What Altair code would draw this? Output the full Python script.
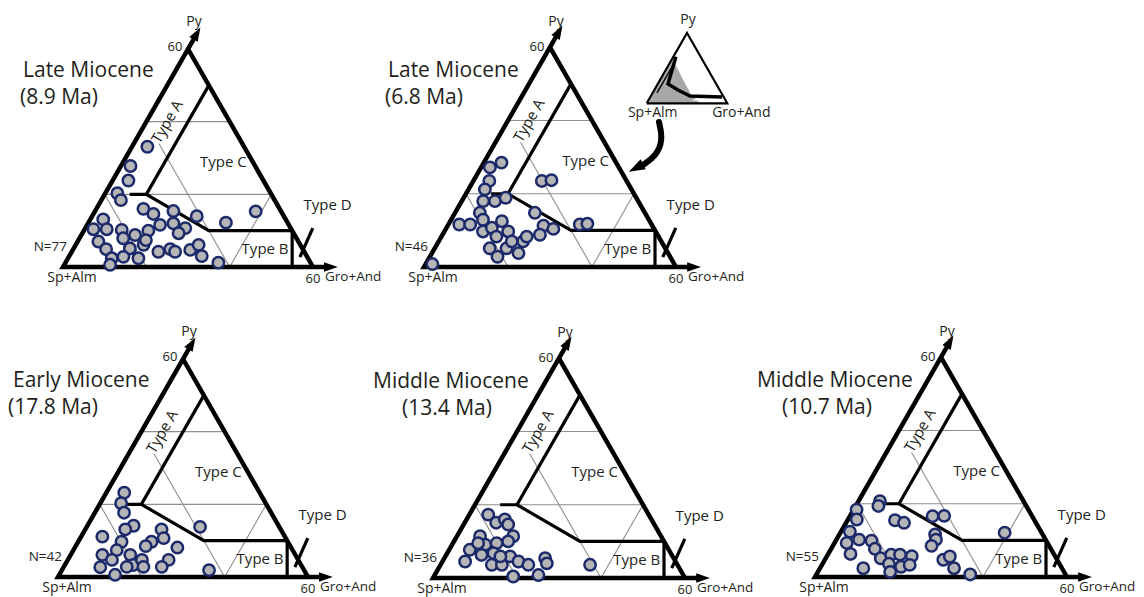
import altair as alt
import pandas as pd

# ---------------- data ----------------
# Each garnet: (Gro+And %, Py %); Sp+Alm is the remainder to 100.
LATE_MIOCENE_8_9 = [
    (3.7, 33.1), (2.3, 27.8), (3.8, 23.8), (2.9, 20.3), (4.7, 18.4), (11.3, 16.0), (14.4, 14.6),
    (18.8, 15.4), (25.1, 14.0), (33.0, 12.2), (38.6, 15.3), (3.1, 13.1), (2.1, 10.4), (5.3, 10.4),
    (9.0, 10.2), (5.0, 7.0), (7.9, 4.9), (10.5, 2.4), (11.0, 0.6), (10.5, 7.9), (12.9, 8.8),
    (15.5, 10.0), (17.5, 11.6), (20.5, 12.0), (24.0, 10.7), (23.1, 9.3), (13.5, 5.1), (16.9, 2.4),
    (13.1, 2.8), (16.3, 6.1), (20.8, 4.2), (23.3, 4.9), (24.8, 4.2), (28.2, 4.7), (29.5, 6.1),
    (31.8, 3.0), (36.7, 1.2), (16.2, 7.4),
]
LATE_MIOCENE_6_8 = [
    (4.2, 28.5), (2.1, 27.2), (3.8, 23.5), (3.9, 21.2), (5.1, 18.0), (7.9, 18.0), (10.0, 18.9),
    (5.9, 14.8), (7.6, 12.9), (2.6, 11.6), (5.2, 11.6), (9.2, 9.7), (10.8, 10.7), (12.3, 12.5),
    (15.2, 9.7), (13.1, 8.3), (13.1, 5.1), (16.1, 2.8), (17.1, 5.1), (20.6, 3.8), (20.1, 7.0),
    (20.3, 8.3), (19.0, 14.8), (22.8, 11.3), (25.6, 10.4), (23.2, 8.8), (16.3, 23.5), (18.5, 23.7),
    (31.3, 11.6), (33.0, 11.8), (1.6, 0.8), (17.4, 7.0),
]
EARLY_MIOCENE_17_8 = [
    (4.3, 23.2), (5.0, 20.3), (7.0, 17.7), (11.1, 14.1), (9.6, 13.1), (5.1, 11.1), (10.4, 9.7),
    (10.4, 7.4), (7.6, 6.1), (10.6, 4.7), (8.8, 2.7), (13.4, 0.6), (14.3, 6.1), (16.4, 3.3),
    (17.8, 4.7), (19.1, 2.8), (15.1, 2.8), (17.6, 9.7), (16.8, 8.5), (18.3, 13.1), (20.0, 10.7),
    (24.6, 8.1), (24.2, 4.7), (23.5, 2.8), (27.2, 13.8), (35.3, 1.9),
]
MIDDLE_MIOCENE_13_4 = [
    (4.5, 17.3), (7.5, 15.1), (9.1, 16.0), (10.6, 14.6), (13.4, 11.4), (5.5, 11.4), (7.9, 9.1),
    (10.4, 9.5), (12.9, 10.0), (4.9, 7.7), (8.4, 6.3), (11.0, 6.8), (5.4, 4.5), (12.2, 3.6),
    (14.6, 3.6), (15.4, 5.9), (18.1, 4.5), (20.9, 3.6), (18.9, 0.4), (24.7, 0.8), (24.0, 5.4),
    (25.1, 4.0), (35.6, 3.6), (13.1, 5.9), (6.0, 9.5),
]
MIDDLE_MIOCENE_10_7 = [
    (5.1, 20.7), (5.4, 19.4), (0.7, 18.4), (2.1, 15.7), (11.3, 15.5), (13.8, 14.8), (19.7, 16.6),
    (22.4, 16.7), (2.1, 12.4), (5.4, 10.2), (2.9, 9.3), (5.3, 6.3), (8.5, 9.9), (10.4, 7.7),
    (13.1, 5.1), (15.1, 6.1), (17.2, 6.1), (20.2, 5.7), (15.8, 3.6), (19.1, 2.8), (20.9, 3.3),
    (10.3, 2.4), (22.8, 11.6), (23.7, 10.2), (23.5, 8.5), (28.2, 4.7), (29.3, 5.6), (31.9, 2.4),
    (36.6, 0.7), (39.1, 12.1), (17.2, 1.4),
]
PANEL_POINTS = [LATE_MIOCENE_8_9, LATE_MIOCENE_6_8, EARLY_MIOCENE_17_8, MIDDLE_MIOCENE_13_4, MIDDLE_MIOCENE_10_7]
PANEL_TITLES = ["Late Miocene", "Late Miocene", "Early Miocene", "Middle Miocene", "Middle Miocene"]
PANEL_AGES = ["(8.9 Ma)", "(6.8 Ma)", "(17.8 Ma)", "(13.4 Ma)", "(10.7 Ma)"]
PANEL_N = ["N=77", "N=46", "N=42", "N=36", "N=55"]

# Diagram template in the 0-60 sub-triangle, as (Gro+And, Py)
GRID_LINES = [[(0, 20), (40, 20)], [(0, 40), (20, 40)], [(0, 20), (20, 0)], [(6, 34), (40, 0)], [(40, 20), (40, 0)]]
FIELD_LINES = [[(10, 20), (10, 50)], [(6, 20), (10, 20), (30, 10), (50, 10)], [(50, 10), (55, 0)],
               [(55.5, 2.7), (54.6, 10.7)]]
FRAME_LINES = [[(0, 63.5), (0, 0), (63.5, 0)], [(60, 0), (0, 60)]]
ARROW_TIPS = [(0, 64.3), (64.3, 0)]
TYPE_NAMES = ["Type A", "Type C", "Type B", "Type D"]
TYPE_POS = [(5, 40), (24, 29), (46, 5), (55, 17)]
VERTEX_NAMES = ["Py", "Sp+Alm", "Gro+And"]
VERTEX_MAX = "60"

# Inset (full 0-100 triangle), as (Gro+And, Py)
INSET_FRAME = [[(0, 0), (100, 0), (0, 100), (0, 0)]]
INSET_GREY = [(0, 0), (1.7, 61.9), (12.4, 50.4), (48, 13.3), (66, 0)]
INSET_BLACK = [[(3.3, 66.1), (12.6, 27.6), (29.3, 19.0), (48.5, 10.4), (88.9, 9.0)]]
INSET_THIN = [[(5.4, 14.7), (5.6, 59.0)]]
INSET_WHITE = [[(55.1, 4.7), (91.0, 4.7)]]

# ---------------- layout (pixels) ----------------
PANEL_ORIGIN = [(63, 267, 250), (424, 267, 252), (58, 577, 250), (433, 578, 252), (815, 577, 252)]
TITLE_DX = [(-40, -43), (-36, -39), (-45, -50), (-60, -31), (-58, -33)]
INSET_ORIGIN = (646.7, 103.3, 80.6)
CURVE_ARROW = [(659, 122), (663, 140), (656, 156), (643, 165)]
CURVE_HEAD = (636, 168, 243)
FONT = "Open Sans"
INK = "#231f20"
PLOT_H = 589


def tp(org, g, p, full=60.0):
    x0, y0, w = org
    h = w * 0.872
    return x0 + (g + p / 2.0) / full * w, y0 - p / full * h


def line_rows(rows, org, lines, key, full=60.0):
    for i, seg in enumerate(lines):
        for j, (g, p) in enumerate(seg):
            x, y = tp(org, g, p, full)
            rows.append(dict(seg=f"{key}-{i}", o=j, x=x, y=y))


grid_r, field_r, frame_r, pts_r, head_r = [], [], [], [], []
lab_c, lab_l, lab_r = [], [], []
for k, org in enumerate(PANEL_ORIGIN):
    x0, y0, w = org
    line_rows(grid_r, org, GRID_LINES, f"g{k}")
    line_rows(field_r, org, FIELD_LINES, f"f{k}")
    line_rows(frame_r, org, FRAME_LINES, f"o{k}")
    for (g, p), ang in zip(ARROW_TIPS, [30, 90]):
        x, y = tp(org, g, p)
        head_r.append(dict(x=x, y=y, ang=ang, sz=190))
    for g, p in PANEL_POINTS[k]:
        x, y = tp(org, g, p)
        pts_r.append(dict(panel=k, x=x, y=y))
    for name, (g, p) in zip(TYPE_NAMES, TYPE_POS):
        x, y = tp(org, g, p)
        lab_c.append(dict(x=x, y=y, t=name, fs=15, ang=300 if name == "Type A" else 0))
    lab_c.append(dict(x=x0 + w / 2 + 6, y=y0 - 245, t=VERTEX_NAMES[0], fs=14, ang=0))
    lab_c.append(dict(x=x0 + w / 2 - 13, y=y0 - 220, t=VERTEX_MAX, fs=13, ang=0))
    lab_c.append(dict(x=x0 + 9, y=y0 + 11, t=VERTEX_NAMES[1], fs=14, ang=0))
    lab_c.append(dict(x=x0 + w + 0, y=y0 + 12, t=VERTEX_MAX, fs=13, ang=0))
    lab_l.append(dict(x=x0 + w + 12, y=y0 + 10, t=VERTEX_NAMES[2], fs=13.5, ang=0))
    lab_r.append(dict(x=x0 + 4, y=y0 - 20, t=PANEL_N[k], fs=13.5, ang=0))
    lab_l.append(dict(x=x0 + TITLE_DX[k][0], y=y0 - 196, t=PANEL_TITLES[k], fs=21, ang=0))
    lab_l.append(dict(x=x0 + TITLE_DX[k][1], y=y0 - 169, t=PANEL_AGES[k], fs=21, ang=0))

# inset
inset_frame_r, inset_black_r, inset_thin_r, inset_white_r = [], [], [], []
line_rows(inset_frame_r, INSET_ORIGIN, INSET_FRAME, "if", 100.0)
line_rows(inset_black_r, INSET_ORIGIN, INSET_BLACK, "ib", 100.0)
line_rows(inset_thin_r, INSET_ORIGIN, INSET_THIN, "it", 100.0)
line_rows(inset_white_r, INSET_ORIGIN, INSET_WHITE, "iw", 100.0)
grey_r = []
for g, p in INSET_GREY:
    x, y = tp(INSET_ORIGIN, g, p, 100.0)
    grey_r.append(dict(x=x, y=y, y2=INSET_ORIGIN[1]))
ix0, iy0, iw = INSET_ORIGIN
lab_c.append(dict(x=ix0 + iw / 2 + 1, y=20, t=VERTEX_NAMES[0], fs=14, ang=0))
lab_c.append(dict(x=ix0 + 6, y=iy0 + 10, t=VERTEX_NAMES[1], fs=14, ang=0))
lab_c.append(dict(x=ix0 + iw + 14, y=iy0 + 10, t=VERTEX_NAMES[2], fs=14, ang=0))

curve_r = [dict(seg="c", o=i, x=x, y=y) for i, (x, y) in enumerate(CURVE_ARROW)]
head_r.append(dict(x=CURVE_HEAD[0], y=CURVE_HEAD[1], ang=CURVE_HEAD[2], sz=260))

X = alt.X("x:Q", scale=alt.Scale(domain=[8, 1136], nice=False, zero=False), axis=None)
Y = alt.Y("y:Q", scale=alt.Scale(domain=[8, 8 + PLOT_H], nice=False, zero=False, reverse=True), axis=None)


def lines(rows, **kw):
    return alt.Chart(pd.DataFrame(rows)).mark_line(**kw).encode(
        x=X, y=Y, detail="seg:N", order="o:Q")


def texts(rows, align):
    return alt.Chart(pd.DataFrame(rows)).mark_text(
        align=align, baseline="middle", font=FONT, color=INK).encode(
        x=X, y=Y, text="t:N", size=alt.Size("fs:Q", scale=None), angle=alt.Angle("ang:Q", scale=None))


layers = [
    alt.Chart(pd.DataFrame(grey_r)).mark_area(color="#a8a8a8", opacity=1).encode(x=X, y=Y, y2="y2:Q"),
    lines(grid_r, color="#8e8e8e", strokeWidth=1.1),
    lines(field_r, color="black", strokeWidth=3.2),
    lines(frame_r, color="black", strokeWidth=4.5, strokeJoin="miter"),
    lines(inset_frame_r, color="black", strokeWidth=2.2, strokeJoin="miter"),
    lines(inset_black_r, color="black", strokeWidth=3.4),
    lines(inset_thin_r, color="black", strokeWidth=1.4),
    lines(inset_white_r, color="white", strokeWidth=1.2),
    lines(curve_r, color="black", strokeWidth=6, interpolate="basis", strokeCap="round"),
    alt.Chart(pd.DataFrame(head_r)).mark_point(
        shape="M0,-1L0.7,1L-0.7,1Z", filled=True, color="black", opacity=1).encode(
        x=X, y=Y, angle=alt.Angle("ang:Q", scale=None), size=alt.Size("sz:Q", scale=None)),
    alt.Chart(pd.DataFrame(pts_r)).mark_circle(
        fill="#b5b5b5", stroke="#1c2a6b", strokeWidth=2.5, size=130, opacity=1).encode(x=X, y=Y),
    texts(lab_c, "center"),
    texts(lab_l, "left"),
    texts(lab_r, "right"),
]

chart = alt.layer(*layers).properties(
    width=1128, height=PLOT_H, padding=0, autosize=alt.AutoSizeParams(type="none")
).configure_view(strokeWidth=0)

chart.save("out.html", embed_options={"renderer": "svg", "actions": False})
